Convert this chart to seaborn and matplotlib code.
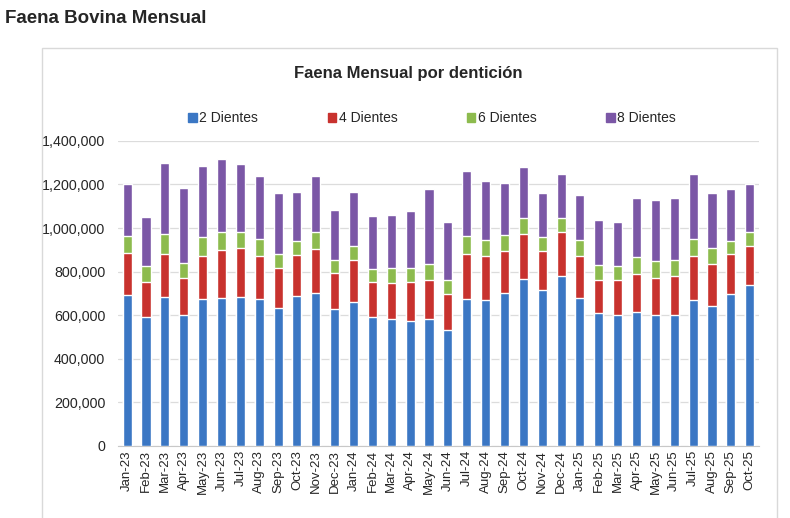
import pandas as pd
import matplotlib.pyplot as plt
import seaborn as sns
from matplotlib.patches import Rectangle
from matplotlib.ticker import FuncFormatter

months = ['Jan-23', 'Feb-23', 'Mar-23', 'Apr-23', 'May-23', 'Jun-23', 'Jul-23', 'Aug-23',
          'Sep-23', 'Oct-23', 'Nov-23', 'Dec-23', 'Jan-24', 'Feb-24', 'Mar-24', 'Apr-24',
          'May-24', 'Jun-24', 'Jul-24', 'Aug-24', 'Sep-24', 'Oct-24', 'Nov-24', 'Dec-24',
          'Jan-25', 'Feb-25', 'Mar-25', 'Apr-25', 'May-25', 'Jun-25', 'Jul-25', 'Aug-25',
          'Sep-25', 'Oct-25']

dientes_2 = [695000, 593000, 685000, 599000, 674000, 680000, 685000, 676000, 633000, 689000,
             700000, 628000, 662000, 590000, 584000, 575000, 584000, 532000, 674000, 669000,
             700000, 767000, 717000, 779000, 680000, 611000, 601000, 616000, 601000, 601000,
             669000, 642000, 697000, 738000]
dientes_4 = [191000, 160000, 198000, 170000, 200000, 220000, 223000, 197000, 182000, 187000,
             206000, 168000, 191000, 163000, 163000, 178000, 179000, 165000, 209000, 202000,
             196000, 208000, 179000, 201000, 190000, 152000, 159000, 173000, 168000, 178000,
             204000, 191000, 182000, 178000]
dientes_6 = [77000, 74000, 91000, 73000, 83000, 84000, 76000, 75000, 68000, 64000,
             74000, 57000, 67000, 57000, 69000, 63000, 70000, 63000, 80000, 72000,
             71000, 73000, 64000, 68000, 73000, 68000, 68000, 76000, 78000, 74000,
             79000, 75000, 62000, 64000]
dientes_8 = [237000, 224000, 325000, 341000, 330000, 335000, 309000, 293000, 280000, 226000,
             260000, 229000, 246000, 246000, 245000, 262000, 344000, 270000, 299000, 271000,
             242000, 234000, 199000, 198000, 208000, 205000, 202000, 271000, 282000, 283000,
             298000, 255000, 236000, 224000]

series = ['2 Dientes', '4 Dientes', '6 Dientes', '8 Dientes']
colors = ['#3b77c4', '#c8322e', '#8dbb4e', '#7b57a6']


def main():
    df = pd.DataFrame({'mes': months, '2 Dientes': dientes_2, '4 Dientes': dientes_4,
                       '6 Dientes': dientes_6, '8 Dientes': dientes_8})
    cum = df[series].cumsum(axis=1)

    sns.set_style('white')
    plt.rcParams['font.family'] = ['Liberation Sans', 'DejaVu Sans']

    fig = plt.figure(figsize=(7.9, 5.18), dpi=100)
    ax = fig.add_axes([0.149, 0.139, 0.812, 0.589])

    # apilado: se dibuja de arriba hacia abajo
    for name, color in reversed(list(zip(series, colors))):
        sns.barplot(x=df['mes'], y=cum[name], color=color, width=0.48,
                    order=months, ax=ax, saturation=1, zorder=3)

    ax.set_ylim(0, 1400000)
    ax.set_yticks(range(0, 1400001, 200000))
    ax.yaxis.set_major_formatter(FuncFormatter(lambda v, p: f'{int(v):,}'))
    ax.grid(axis='y', color='#dcdcdc', linewidth=0.9, zorder=0)
    ax.set_xlabel('')
    ax.set_ylabel('')
    ax.tick_params(axis='y', labelsize=10.3, length=0, pad=9)
    ax.tick_params(axis='x', labelsize=9.5, length=0, rotation=90, pad=3)
    for s in ['top', 'right', 'left']:
        ax.spines[s].set_visible(False)
    ax.spines['bottom'].set_color('#c8c8c8')

    handles = [Rectangle((0, 0), 1, 1, color=c) for c in colors]
    fig.legend(handles, series, loc='center', bbox_to_anchor=(0.547, 0.772), ncol=4,
               frameon=False, fontsize=10, handlelength=0.6, handleheight=0.6,
               handletextpad=0.2, columnspacing=5.0)

    fig.text(0.006, 0.965, 'Faena Bovina Mensual', fontsize=13.5, fontweight='bold', va='center')
    fig.text(0.517, 0.859, 'Faena Mensual por dentición', fontsize=12, fontweight='bold',
             ha='center', va='center')

    fig.patches.append(Rectangle((0.053, -0.05), 0.931, 0.957, transform=fig.transFigure,
                                 fill=False, edgecolor='#d9d9d9', linewidth=1))

    fig.savefig('out.png', dpi=100)


if __name__ == "__main__":
    main()
